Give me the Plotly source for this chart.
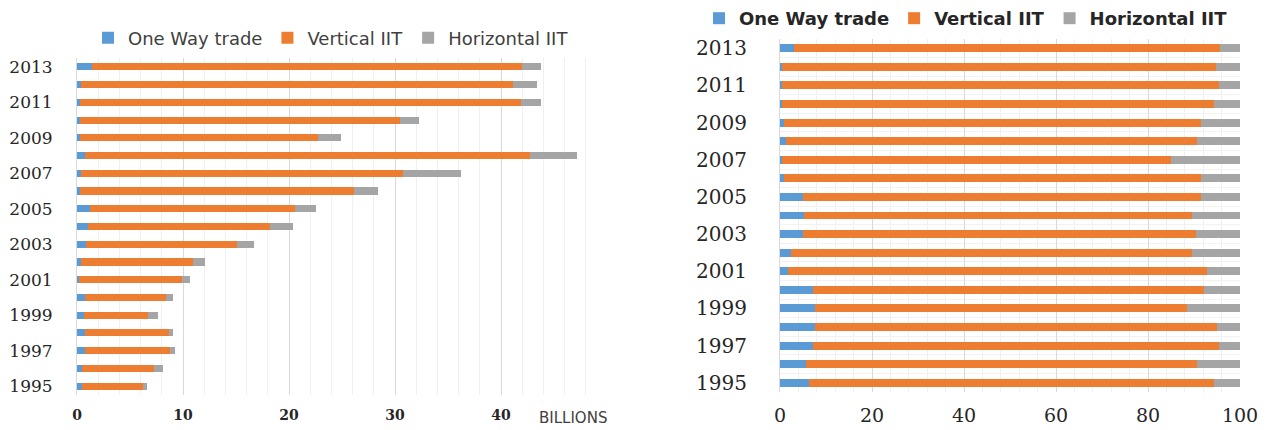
import plotly.graph_objects as go

# Years on the vertical axis (bottom to top)
years = list(range(1995, 2014))

# Left panel: trade values in billions
one_way_bn = [0.47, 0.47, 0.75, 0.75, 0.63, 0.75, 0.19, 0.4, 0.85, 1.07,
              1.2, 0.25, 0.4, 0.75, 0.25, 0.25, 0.25, 0.4, 1.39]
vertical_bn = [5.73, 6.83, 8.05, 7.95, 6.07, 7.65, 9.71, 10.5, 14.25, 17.13,
               19.4, 25.85, 30.4, 41.95, 22.45, 30.25, 41.65, 40.7, 40.61]
horizontal_bn = [0.4, 0.8, 0.4, 0.4, 0.9, 0.7, 0.8, 1.2, 1.6, 2.2,
                 1.9, 2.3, 5.4, 4.5, 2.2, 1.8, 1.9, 2.3, 1.8]

# Right panel: shares in percent
one_way_pct = [6.4, 5.7, 7.2, 7.5, 7.5, 7.2, 1.7, 2.4, 5.0, 5.3,
               5.0, 0.9, 0.5, 1.3, 0.9, 0.5, 0.5, 0.5, 3.1]
vertical_pct = [87.9, 85.0, 88.2, 87.6, 81.0, 85.0, 91.2, 87.2, 85.4, 84.3,
                86.5, 90.6, 84.4, 89.4, 90.6, 93.8, 94.9, 94.2, 92.6]
horizontal_pct = [round(100 - a - b, 1) for a, b in zip(one_way_pct, vertical_pct)]

left_ticks = [0, 10, 20, 30, 40, 50]
left_ticktext = ["0", "10", "20", "30", "40", ""]
right_ticks = [0, 20, 40, 60, 80, 100]
odd_years = [y for y in years if y % 2 == 1]

_BLUE = "#5B9BD5"
_ORANGE = "#ED7D31"
_GRAY = "#A5A5A5"

# The page body adds an 8 px margin, so the figure is a bit smaller than the window
W, H, PAD = 1273, 422, 8


def px(x):
    return (x - PAD) / W


def py(y):
    return 1 - (y - PAD) / H


series = [
    ("One Way trade", _BLUE, one_way_bn, one_way_pct),
    ("Vertical IIT", _ORANGE, vertical_bn, vertical_pct),
    ("Horizontal IIT", _GRAY, horizontal_bn, horizontal_pct),
]

fig = go.Figure()

for name, color, left_vals, right_vals in series:
    fig.add_trace(go.Bar(
        y=years, x=left_vals, orientation="h", name=name,
        marker=dict(color=color, line=dict(width=0)), width=0.4,
        xaxis="x", yaxis="y", legend="legend",
    ))
    fig.add_trace(go.Bar(
        y=years, x=right_vals, orientation="h", name=name,
        marker=dict(color=color, line=dict(width=0)), width=0.43,
        xaxis="x2", yaxis="y2", legend="legend2",
    ))

fig.add_annotation(
    x=px(573), y=py(418), xref="paper", yref="paper", text="BILLIONS",
    showarrow=False, xanchor="center", yanchor="middle",
    font=dict(family="DejaVu Sans", size=15, color="#404040"),
)

fig.update_layout(
    barmode="stack",
    width=W, height=H,
    margin=dict(l=0, r=0, t=0, b=0, autoexpand=False),
    plot_bgcolor="#FFFFFF", paper_bgcolor="#FFFFFF",
    bargap=0,
    xaxis=dict(
        domain=[px(77), px(607)], range=[0, 50],
        tickmode="array", tickvals=left_ticks, ticktext=left_ticktext,
        showgrid=True, gridcolor="#D9D9D9", gridwidth=1,
        minor=dict(tickmode="linear", tick0=0, dtick=2, showgrid=True,
                   gridcolor="#F0F0F0", gridwidth=1),
        zeroline=False, showline=False, ticks="",
        tickfont=dict(family="DejaVu Serif", size=14, color="#262626",
                      weight="bold"),
        ticklabelstandoff=10,
        anchor="y",
    ),
    yaxis=dict(
        domain=[py(395), py(58)], range=[1994.5, 2013.5],
        tickmode="array", tickvals=odd_years,
        showgrid=False, zeroline=False,
        showline=True, linecolor="#D9D9D9", linewidth=1, ticks="",
        tickfont=dict(family="DejaVu Serif", size=17, color="#262626"),
        ticklabelstandoff=20,
        anchor="x",
    ),
    xaxis2=dict(
        domain=[px(780), px(1240)], range=[0, 100],
        tickmode="array", tickvals=right_ticks,
        showgrid=True, gridcolor="#D9D9D9", gridwidth=1,
        minor=dict(tickmode="linear", tick0=0, dtick=4, showgrid=True,
                   gridcolor="#F0F0F0", gridwidth=1),
        zeroline=False, showline=False, ticks="",
        tickfont=dict(family="DejaVu Serif", size=19, color="#262626"),
        ticklabelstandoff=10,
        anchor="y2",
    ),
    yaxis2=dict(
        domain=[py(392), py(39)], range=[1994.5, 2013.5],
        tickmode="array", tickvals=odd_years,
        showgrid=False, zeroline=False,
        minor=dict(tickmode="linear", tick0=1994.5, dtick=1, showgrid=True,
                   gridcolor="#F2F2F2", gridwidth=1),
        showline=True, linecolor="#D9D9D9", linewidth=1, ticks="",
        tickfont=dict(family="DejaVu Serif", size=20, color="#262626"),
        ticklabelstandoff=28,
        anchor="x2",
    ),
    legend=dict(
        orientation="h", x=px(88), y=py(38),
        xanchor="left", yanchor="middle",
        font=dict(family="DejaVu Sans", size=18, color="#404040"),
        bgcolor="rgba(0,0,0,0)", traceorder="normal",
    ),
    legend2=dict(
        orientation="h", x=px(699), y=py(0),
        xanchor="left", yanchor="top",
        font=dict(family="DejaVu Sans", size=18, color="#262626", weight="bold"),
        bgcolor="rgba(0,0,0,0)", traceorder="normal",
    ),
    showlegend=True,
)

fig.write_html("out.html")
